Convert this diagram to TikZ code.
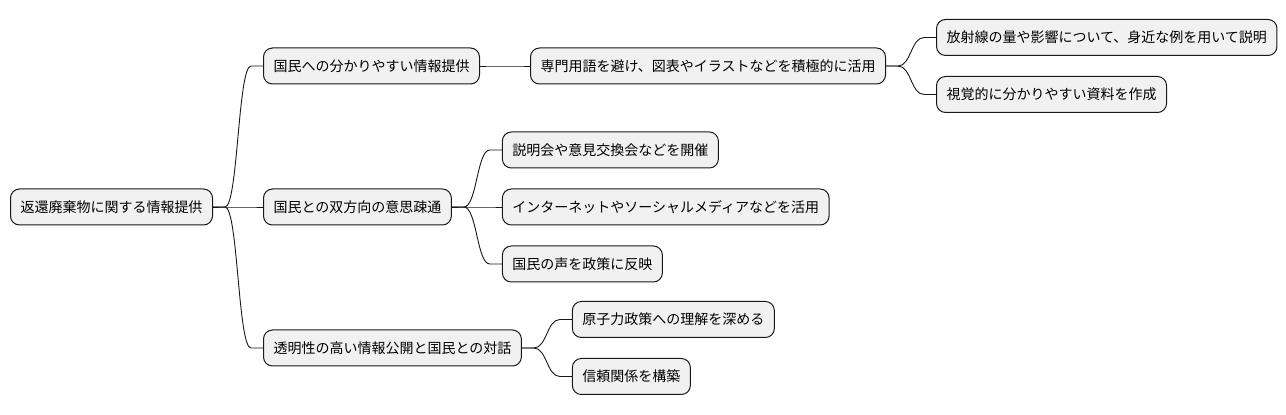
\documentclass[tikz,border=0pt]{standalone}
\usepackage{fontspec}
\usepackage{xcolor}
\usepackage{tikz}
\usetikzlibrary{positioning}
\newfontfamily\jpfont{Noto Sans CJK JP}
\definecolor{nodefill}{HTML}{F1F1F1}
\definecolor{nodeline}{HTML}{181818}

\begin{document}
\begin{tikzpicture}[
  topic/.style={draw=nodeline, line width=1pt, rounded corners=9pt, fill=nodefill, font=\jpfont\fontsize{14pt}{16pt}\selectfont, minimum height=36pt, inner xsep=10pt, inner ysep=0pt},
  link/.style={draw=nodeline, line width=0.9pt, to path={-- ++(12pt,0) .. controls +(13pt,0) and +(-13pt,0) .. ([xshift=-12pt]\tikztotarget) -- (\tikztotarget)}}]
\useasboundingbox (0,0) rectangle (1286pt,415pt);
\node[topic, anchor=west] (root) at (10pt,208pt) {返還廃棄物に関する情報提供};
\node[topic, right=50pt of root, yshift=141pt] (a) {国民への分かりやすい情報提供};
\node[topic, right=50pt of root] (b) {国民との双方向の意思疎通};
\node[topic, right=50pt of root, yshift=-141pt] (c) {透明性の高い情報公開と国民との対話};
\node[topic, right=50pt of a] (a1) {専門用語を避け、図表やイラストなどを積極的に活用};
\node[topic, right=50pt of a1, yshift=28.5pt] (a11) {放射線の量や影響について、身近な例を用いて説明};
\node[topic, right=50pt of a1, yshift=-28.5pt] (a12) {視覚的に分かりやすい資料を作成};
\node[topic, right=50pt of b, yshift=57pt] (b1) {説明会や意見交換会などを開催};
\node[topic, right=50pt of b] (b2) {インターネットやソーシャルメディアなどを活用};
\node[topic, right=50pt of b, yshift=-57pt] (b3) {国民の声を政策に反映};
\node[topic, right=50pt of c, yshift=28.5pt] (c1) {原子力政策への理解を深める};
\node[topic, right=50pt of c, yshift=-28.5pt] (c2) {信頼関係を構築};
\foreach \a/\b in {root/a, root/b, root/c, a/a1, a1/a11, a1/a12, b/b1, b/b2, b/b3, c/c1, c/c2} \draw[link] (\a.east) to (\b.west);
\end{tikzpicture}
\end{document}
